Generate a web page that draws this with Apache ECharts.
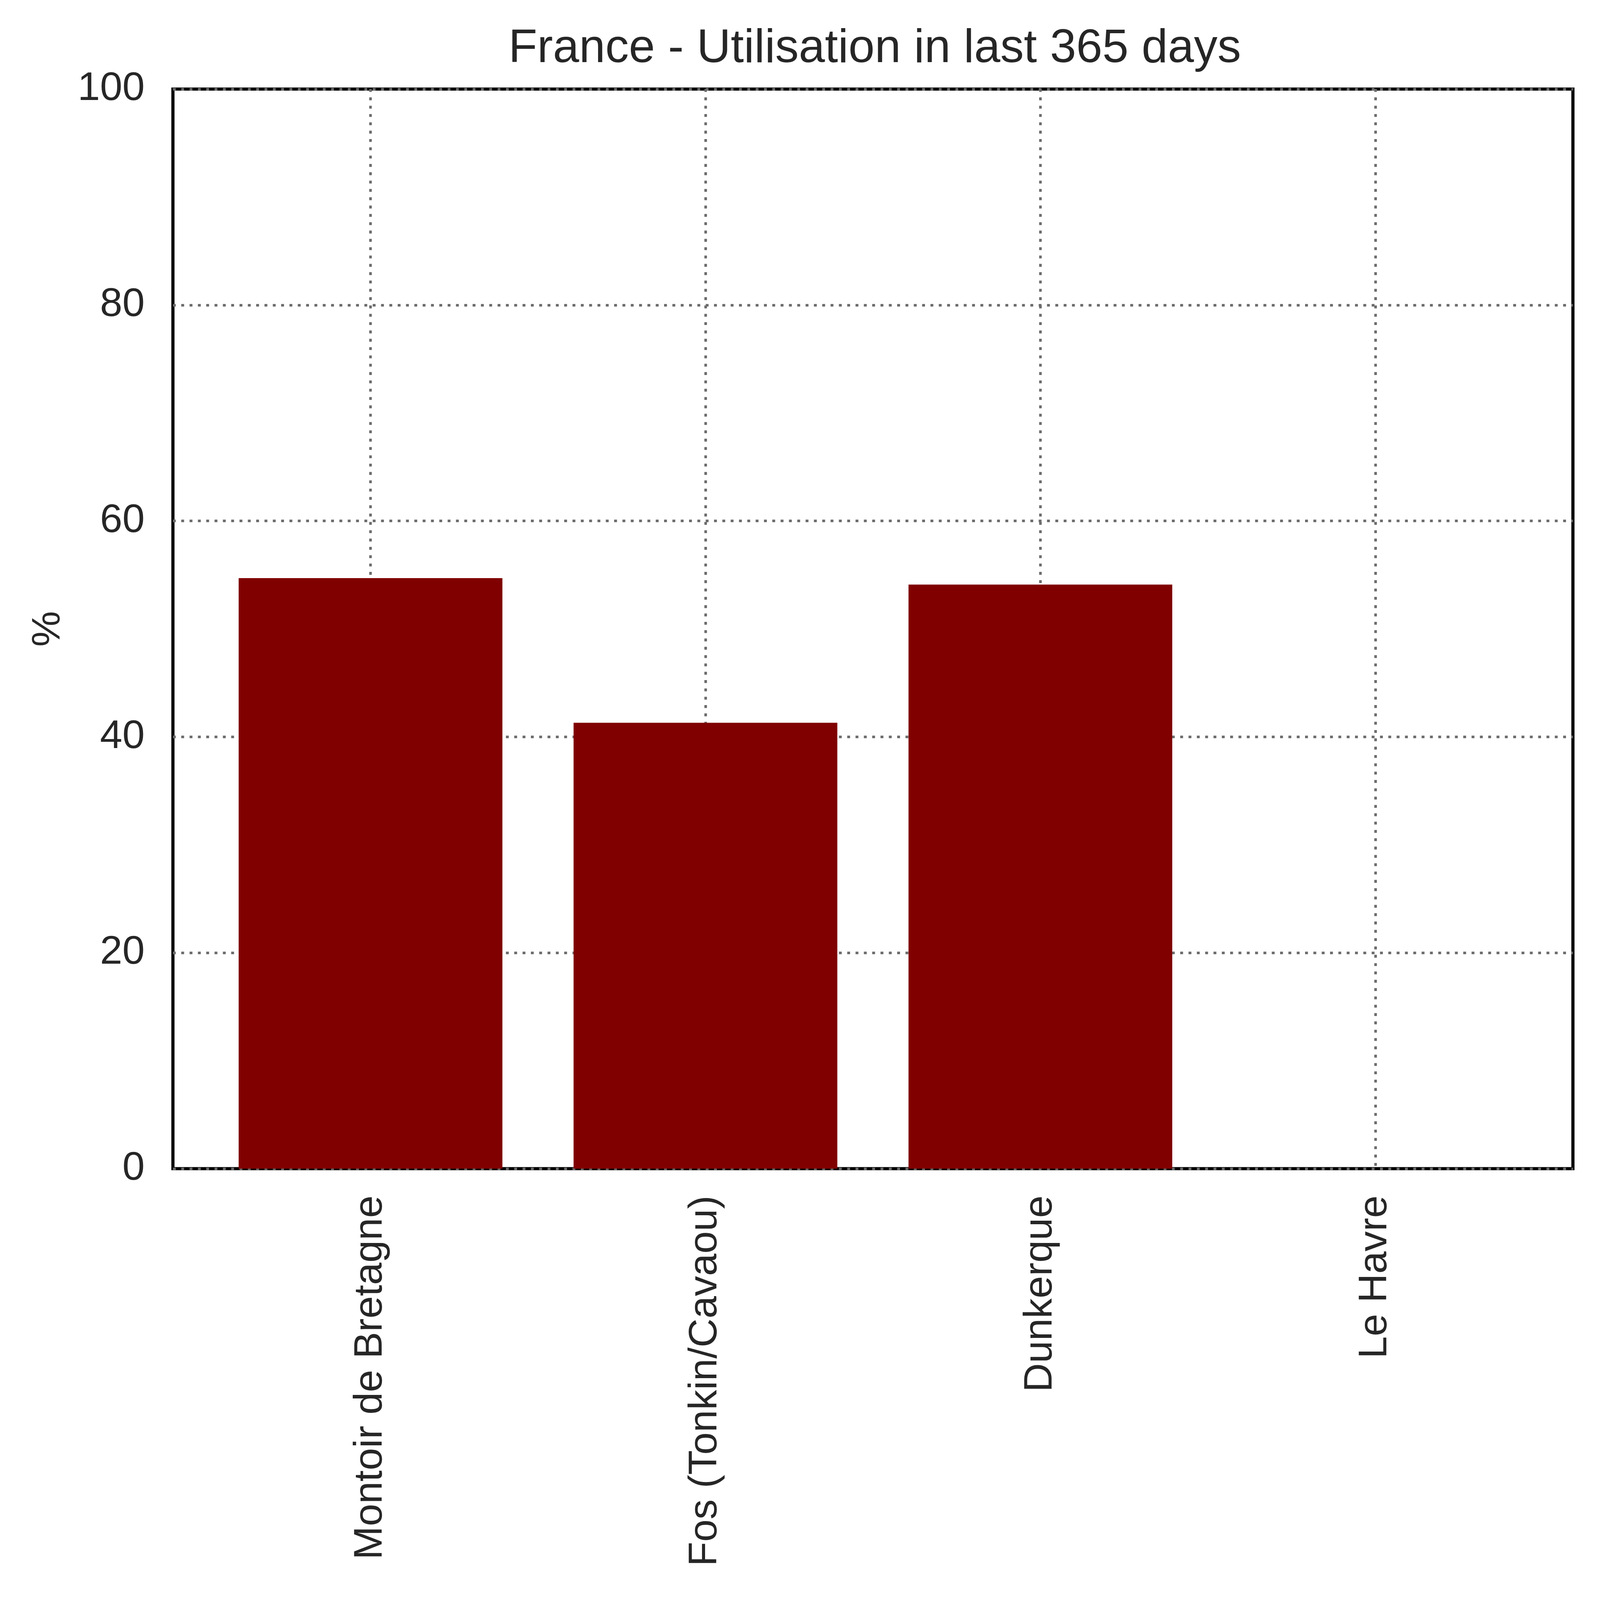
<!DOCTYPE html>
<html>
<head>
<meta charset="utf-8">
<script src="https://cdn.jsdelivr.net/npm/echarts@6/dist/echarts.min.js"></script>
<style>
  html, body { margin: 0; padding: 0; background: #fff; overflow: hidden; }
  #chart { width: 100vw; height: 100vh; }
</style>
</head>
<body>
<div id="chart"></div>
<script>
const ports = ['Montoir de Bretagne', 'Fos (Tonkin/Cavaou)', 'Dunkerque', 'Le Havre'];
const utilisation = [54.7, 41.3, 54.1, 0];
const portPositions = [0, 1, 2, 3];

// Layout was measured on the 5672x5479 reference, scale it to the real window
const SX = window.innerWidth / 5672;
const SY = window.innerHeight / 5479;
const SF = (SX + SY) / 2;
const px = (v) => v * SX;
const py = (v) => v * SY;
const pf = (v) => v * SF;

const textColor = '#262626';
const font = '"Liberation Sans", Arial, sans-serif';
const gridLine = { color: '#6b6b6b', width: pf(9), type: [pf(10), pf(19)] };

const chart = echarts.init(document.getElementById('chart'));

window.addEventListener('resize', () => chart.resize());

chart.setOption({
  backgroundColor: '#ffffff',
  animation: false,
  title: {
    text: 'France - Utilisation in last 365 days',
    left: px(3094),
    textAlign: 'center',
    top: py(80),
    textStyle: { color: textColor, fontFamily: font, fontSize: pf(164), fontWeight: 'normal' }
  },
  grid: {
    left: px(613),
    right: px(96),
    top: py(305),
    bottom: py(1477),
    show: true,
    borderColor: '#000',
    borderWidth: pf(11),
    backgroundColor: 'transparent',
    outerBoundsMode: 'none'
  },
  xAxis: {
    type: 'value',
    // matplotlib default: bars 0.8 wide plus a 5% margin
    min: -0.59,
    max: 3.59,
    axisLine: { show: false },
    axisTick: { show: false, customValues: portPositions },
    axisLabel: {
      customValues: portPositions,
      rotate: 90,
      margin: py(92),
      color: textColor,
      fontFamily: font,
      fontSize: pf(140),
      formatter: (v) => ports[Math.round(v)]
    },
    splitLine: { show: true, lineStyle: gridLine }
  },
  yAxis: {
    type: 'value',
    min: 0,
    max: 100,
    interval: 20,
    name: '%',
    nameLocation: 'middle',
    nameRotate: 90,
    nameGap: px(370),
    nameTextStyle: { color: textColor, fontFamily: font, fontSize: pf(140) },
    axisLine: { show: false },
    axisTick: { show: false },
    axisLabel: { margin: px(100), color: textColor, fontFamily: font, fontSize: pf(140) },
    splitLine: { show: true, lineStyle: gridLine }
  },
  series: [
    {
      type: 'bar',
      data: portPositions.map((x, i) => [x, utilisation[i]]),
      barWidth: px(935),
      itemStyle: { color: '#800000' },
      z: 3
    }
  ]
});
</script>
</body>
</html>
